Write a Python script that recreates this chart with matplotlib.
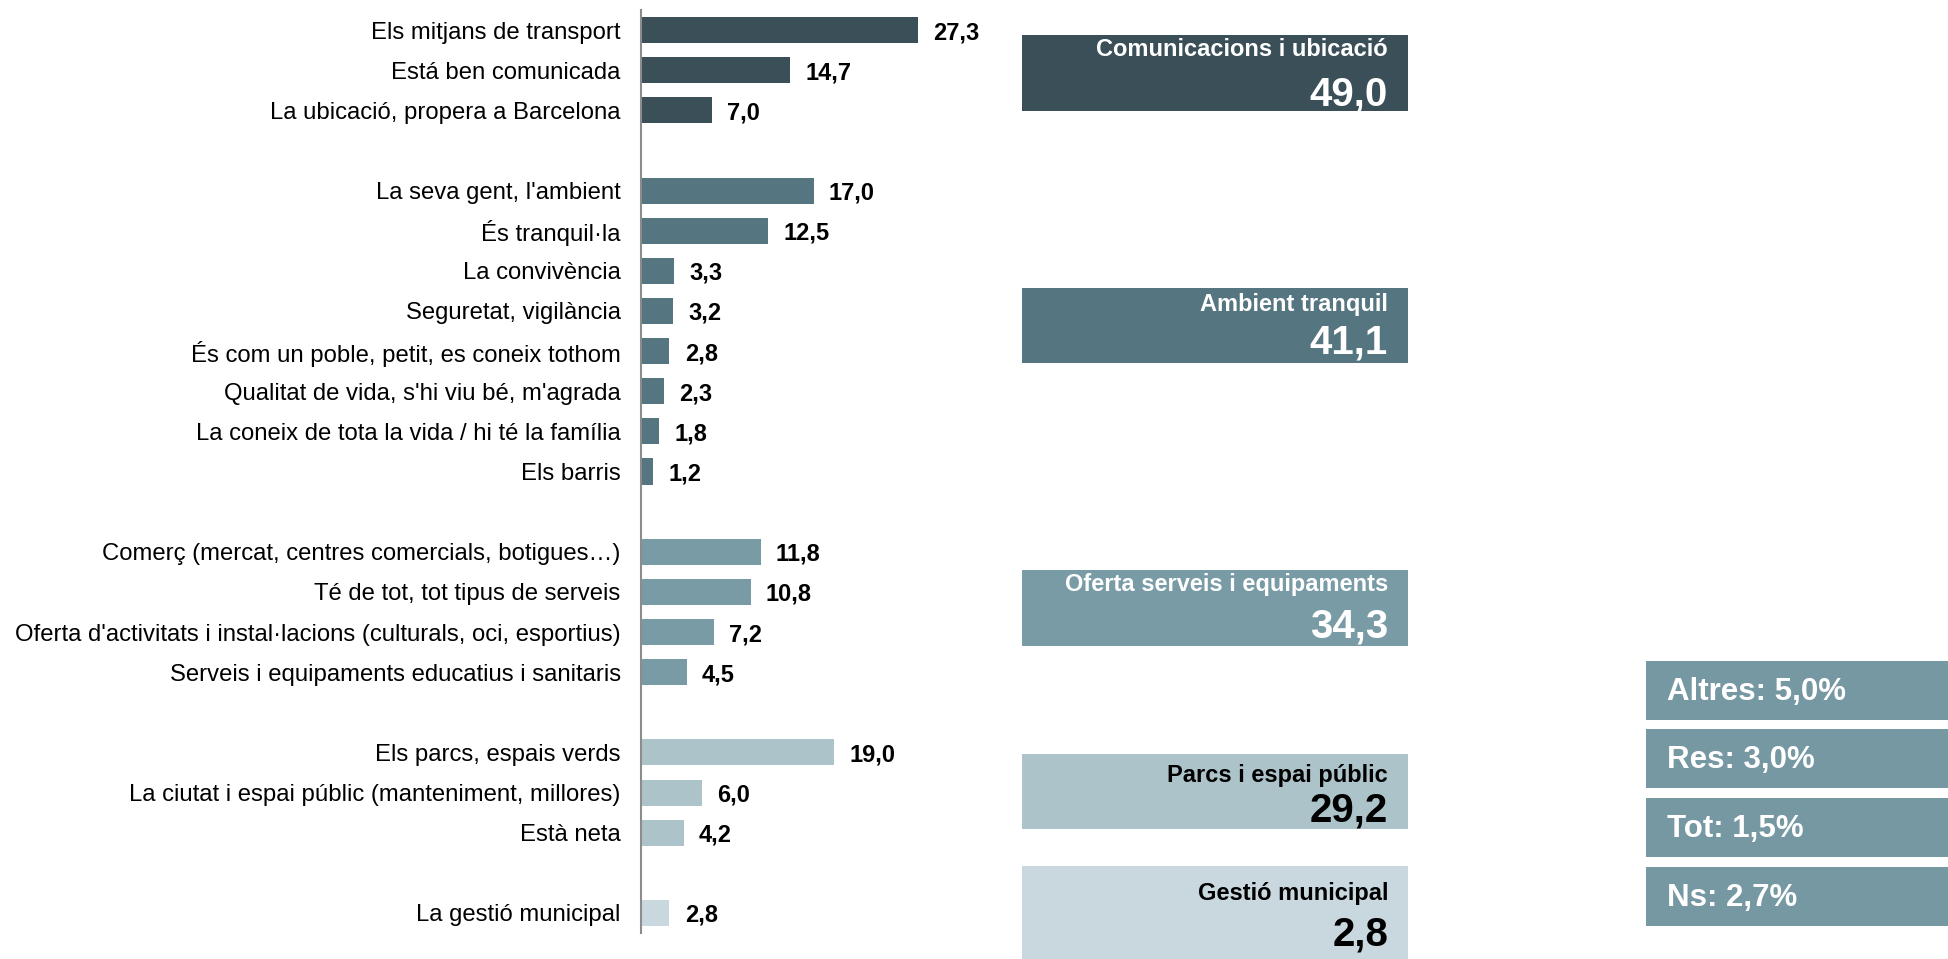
import matplotlib
matplotlib.use('Agg')
import matplotlib.pyplot as plt
from matplotlib.patches import Rectangle

plt.rcParams['font.family'] = ['Liberation Sans', 'DejaVu Sans']

# dades
grup1_labels = ['Els mitjans de transport', 'Está ben comunicada', 'La ubicació, propera a Barcelona']
grup1_vals = [27.3, 14.7, 7.0]
grup2_labels = ["La seva gent, l'ambient", 'És tranquil·la', 'La convivència', 'Seguretat, vigilància',
                'És com un poble, petit, es coneix tothom', "Qualitat de vida, s'hi viu bé, m'agrada",
                'La coneix de tota la vida / hi té la família', 'Els barris']
grup2_vals = [17.0, 12.5, 3.3, 3.2, 2.8, 2.3, 1.8, 1.2]
grup3_labels = ['Comerç (mercat, centres comercials, botigues…)', 'Té de tot, tot tipus de serveis',
                "Oferta d'activitats i instal·lacions (culturals, oci, esportius)",
                'Serveis i equipaments educatius i sanitaris']
grup3_vals = [11.8, 10.8, 7.2, 4.5]
grup4_labels = ['Els parcs, espais verds', 'La ciutat i espai públic (manteniment, millores)', 'Està neta']
grup4_vals = [19.0, 6.0, 4.2]
grup5_labels = ['La gestió municipal']
grup5_vals = [2.8]

grup_noms = ['Comunicacions i ubicació', 'Ambient tranquil', 'Oferta serveis i equipaments',
             'Parcs i espai públic', 'Gestió municipal']
grup_totals = [49.0, 41.1, 34.3, 29.2, 2.8]

altres_labels = ['Altres', 'Res', 'Tot', 'Ns']
altres_vals = [5.0, 3.0, 1.5, 2.7]

colors = ['#3A4F57', '#557580', '#789BA6', '#ADC3CA', '#C8D8DE']
text_colors = ['white', 'white', 'white', 'black', 'black']
color_altres = '#7698A3'

def fmt(v):
    return f"{v:.1f}".replace('.', ',')

W, H = 1948, 959
fig = plt.figure(figsize=(W / 100, H / 100), dpi=100)

# eix de barres (posicio en pixels)
ax_left, ax_right, ax_top, ax_bot = 641, 1000, 10, 933
ax = fig.add_axes([ax_left / W, (H - ax_bot) / H, (ax_right - ax_left) / W, (ax_bot - ax_top) / H])

grups = [(grup1_labels, grup1_vals), (grup2_labels, grup2_vals), (grup3_labels, grup3_vals),
         (grup4_labels, grup4_vals), (grup5_labels, grup5_vals)]

pos = 0
for gi, (labs, vals) in enumerate(grups):
    ys = list(range(pos, pos + len(vals)))
    ax.barh(ys, vals, height=0.65, color=colors[gi])
    for y, lab, v in zip(ys, labs, vals):
        ax.text(-2.0, y, lab, ha='right', va='center_baseline', fontsize=17.2, color='black')
        ax.text(v + 1.5, y, fmt(v), ha='left', va='center_baseline', fontsize=17,
                fontweight='bold', color='black')
    pos += len(vals) + 1

ax.set_ylim(pos - 1.5, -0.5)
ax.set_xlim(0, (ax_right - ax_left) / 10.15)
for s in ['top', 'right', 'bottom']:
    ax.spines[s].set_visible(False)
ax.spines['left'].set_color('#8C8C8C')
ax.spines['left'].set_linewidth(1.5)
ax.set_xticks([])
ax.set_yticks([])
ax.patch.set_alpha(0)

# caixes de resum
ov = fig.add_axes([0, 0, 1, 1])
ov.set_xlim(0, W)
ov.set_ylim(H, 0)
ov.axis('off')
ov.patch.set_alpha(0)

box_tops = [35, 288, 570, 754, 866]
box_hs = [76, 75, 76, 75, 93]
title_base = [56, 311, 591, 782, 900]
num_base = [105, 354, 638, 822, 946]
bx0, bx1 = 1022, 1408
for i, (nom, tot) in enumerate(zip(grup_noms, grup_totals)):
    t, h = box_tops[i], box_hs[i]
    ov.add_patch(Rectangle((bx0, t), bx1 - bx0, h, color=colors[i], lw=0))
    ov.text(1388, title_base[i], nom, ha='right', va='baseline', fontsize=17,
            fontweight='bold', color=text_colors[i])
    ov.text(1388, num_base[i], fmt(tot), ha='right', va='baseline', fontsize=29,
            fontweight='bold', color=text_colors[i])

alt_tops = [661, 729, 798, 867]
for t, lab, v in zip(alt_tops, altres_labels, altres_vals):
    ov.add_patch(Rectangle((1646, t), W - 1646, 59, color=color_altres, lw=0))
    ov.text(1667, t + 31, f"{lab}: {fmt(v)}%", ha='left', va='center', fontsize=22.5,
            fontweight='bold', color='white')

fig.savefig('out.png', dpi=100)
